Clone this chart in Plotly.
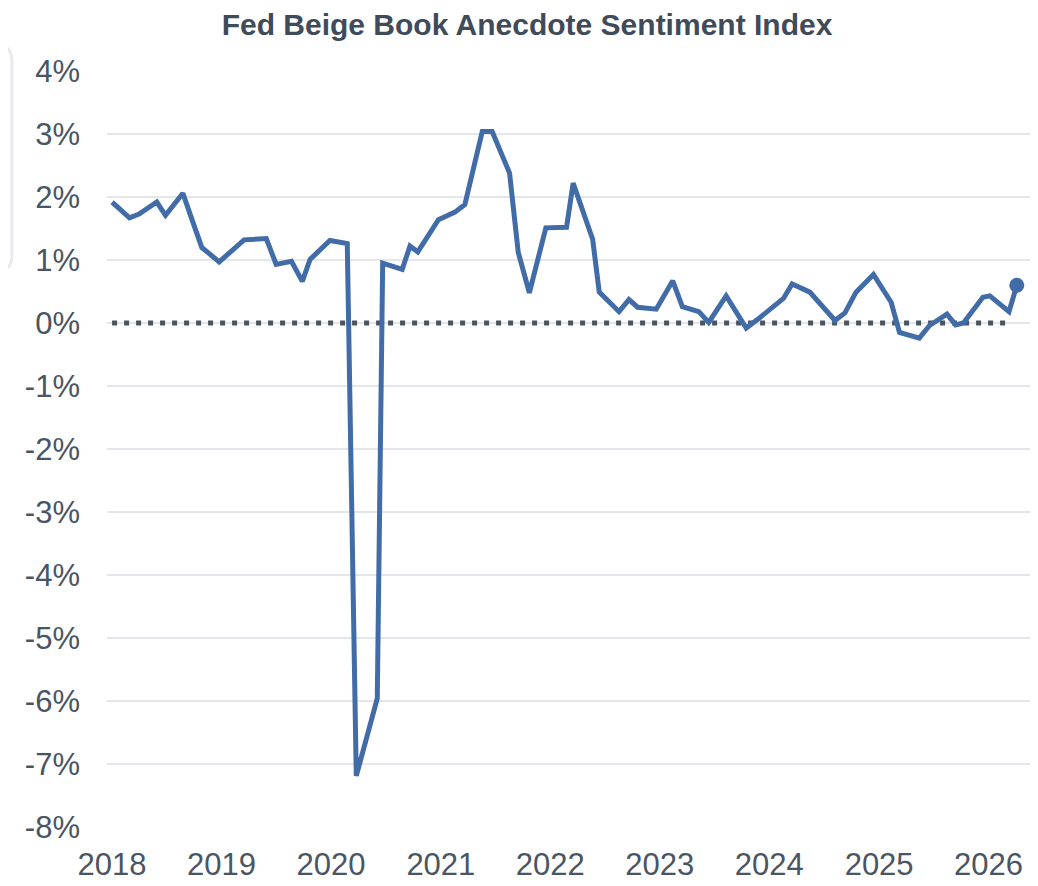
import plotly.graph_objects as go

# Beige Book release dates (approximate) and sentiment index values (%)
dates = [
    "2018-01-01", "2018-02-28", "2018-04-01", "2018-05-30", "2018-06-28", "2018-08-25",
    "2018-09-20", "2018-10-27", "2018-12-24", "2019-03-17", "2019-05-30", "2019-07-02",
    "2019-08-22", "2019-09-27", "2019-10-23", "2019-12-28", "2020-02-24", "2020-03-25",
    "2020-06-03", "2020-06-21", "2020-08-25", "2020-09-20", "2020-10-16", "2020-12-24",
    "2021-02-17", "2021-03-22", "2021-05-19", "2021-06-21", "2021-08-18", "2021-09-16",
    "2021-10-23", "2021-12-17", "2022-02-24", "2022-03-18", "2022-05-22", "2022-06-13",
    "2022-08-18", "2022-09-20", "2022-10-19", "2022-12-20", "2023-02-13", "2023-03-17",
    "2023-05-11", "2023-06-13", "2023-08-10", "2023-10-16", "2023-11-29", "2024-01-08",
    "2024-02-17", "2024-03-17", "2024-05-15", "2024-08-07", "2024-09-09", "2024-10-16",
    "2024-12-13", "2025-02-10", "2025-03-10", "2025-05-15", "2025-06-18", "2025-08-15",
    "2025-09-13", "2025-10-09", "2025-12-13", "2026-01-05", "2026-03-10", "2026-04-05",
]
sentiment = [
    1.92, 1.67, 1.73, 1.92, 1.71, 2.06,
    1.70, 1.20, 0.97, 1.32, 1.34, 0.93,
    0.98, 0.66, 1.01, 1.31, 1.26, -7.19,
    -5.96, 0.95, 0.85, 1.22, 1.13, 1.64,
    1.76, 1.88, 3.04, 3.04, 2.38, 1.12,
    0.48, 1.51, 1.52, 2.22, 1.33, 0.49,
    0.18, 0.37, 0.25, 0.22, 0.67, 0.26,
    0.18, 0.01, 0.43, -0.08, 0.08, 0.24,
    0.39, 0.62, 0.49, 0.04, 0.16, 0.49,
    0.77, 0.33, -0.15, -0.24, -0.04, 0.14,
    -0.03, 0.00, 0.41, 0.43, 0.18, 0.60,
]
zero_dates = dates[:-1]
zero_line = [0.0 for _ in zero_dates]

y_ticks = [4, 3, 2, 1, 0, -1, -2, -3, -4, -5, -6, -7, -8]
y_labels = [f"{v}%" for v in y_ticks]

title_text = "Fed Beige Book Anecdote Sentiment Index"

LINE = "#426ca8"
TEXT = "#4a5563"
GRID = "#e3e6eb"

fig = go.Figure()

fig.add_trace(go.Scatter(
    x=zero_dates, y=zero_line, mode="lines",
    line=dict(color="#4a5563", width=5, dash="5px,7px"),
    hoverinfo="skip", showlegend=False,
))

fig.add_trace(go.Scatter(
    x=dates, y=sentiment, mode="lines",
    line=dict(color=LINE, width=5),
    showlegend=False,
))

fig.add_trace(go.Scatter(
    x=[dates[-1]], y=[sentiment[-1]], mode="markers",
    marker=dict(color=LINE, size=15),
    cliponaxis=False,
    showlegend=False,
))

# faint card edge at the far left (partially off-screen panel)
fig.add_shape(
    type="path", xref="paper", yref="paper",
    path=("M -0.2 1.034 L -0.119 1.034 Q -0.103 1.034 -0.103 1.014 "
          "L -0.103 0.756 Q -0.103 0.7355 -0.119 0.7355 L -0.2 0.7355 Z"),
    line=dict(color="#e8eaf0", width=3), fillcolor="white", layer="below",
)

fig.update_layout(
    width=1038, height=886,
    paper_bgcolor="white", plot_bgcolor="white",
    margin=dict(l=99, r=16, t=63, b=63),
    title=dict(
        text=f"<b>{title_text}</b>", x=0.5, xanchor="center",
        y=1.0, yanchor="top", pad=dict(t=6),
        font=dict(family="Liberation Sans, Arial", size=30, color="#404b5a"),
    ),
    font=dict(family="Liberation Sans, Arial", color=TEXT),
    xaxis=dict(
        type="date", range=["2017-12-15", "2026-05-19"],
        dtick="M12", tick0="2018-01-01", tickformat="%Y",
        showgrid=False, zeroline=False, showline=False,
        tickfont=dict(size=31, color=TEXT), ticklabelstandoff=16,
    ),
    yaxis=dict(
        range=[-8, 4], tickvals=y_ticks, ticktext=y_labels,
        showgrid=True, gridcolor=GRID, gridwidth=2,
        zeroline=False, showline=False,
        tickfont=dict(size=31, color=TEXT), ticklabelstandoff=26,
    ),
)

fig.write_html("out.html")
